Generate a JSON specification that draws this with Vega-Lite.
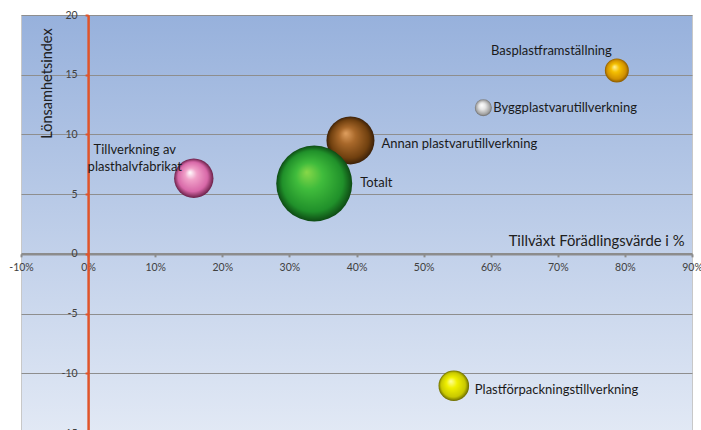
{
  "$schema": "https://vega.github.io/schema/vega-lite/v6.json",
  "width": 671,
  "height": 418,
  "autosize": {"type": "none"},
  "padding": {"left": 21, "top": 15, "right": 9, "bottom": -3},
  "background": "white",
  "view": {
    "fill": {"gradient": "linear", "x1": 0, "y1": 0, "x2": 0, "y2": 1,
      "stops": [{"offset": 0, "color": "#97b1dc"}, {"offset": 0.57, "color": "#c2d1ea"}, {"offset": 1, "color": "#e2e9f5"}]},
    "stroke": "#c8c8c8",
    "strokeWidth": 1
  },
  "config": {"font": "Lato"},
  "data": {
    "values": [
      {"namn": "Basplastframställning", "tillvaxt": 0.788, "lonsamhet": 15.36, "storlek": 144},
      {"namn": "Byggplastvarutillverkning", "tillvaxt": 0.589, "lonsamhet": 12.24, "storlek": 72},
      {"namn": "Annan plastvarutillverkning", "tillvaxt": 0.391, "lonsamhet": 9.5, "storlek": 576},
      {"namn": "Totalt", "tillvaxt": 0.337, "lonsamhet": 5.89, "storlek": 1444},
      {"namn": "Tillverkning av\nplasthalvfabrikat", "tillvaxt": 0.1575, "lonsamhet": 6.33, "storlek": 388},
      {"namn": "Plastförpackningstillverkning", "tillvaxt": 0.545, "lonsamhet": -11.04, "storlek": 234}
    ]
  },
  "encoding": {
    "x": {
      "field": "tillvaxt", "type": "quantitative",
      "scale": {"domain": [-0.1, 0.9], "nice": false, "zero": false},
      "axis": {
        "orient": "bottom", "offset": -179.14,
        "values": [-0.1, 0, 0.1, 0.2, 0.3, 0.4, 0.5, 0.6, 0.7, 0.8, 0.9],
        "labelExpr": "round(datum.value*100) + '%'",
        "grid": false,
        "domainColor": "#8c8c8c", "domainWidth": 2.5,
        "tickColor": "#8c8c8c", "tickSize": 3, "tickWidth": 2,
        "labelPadding": 6, "labelFontSize": 10.5, "labelColor": "#404040",
        "labelFlush": false, "labelOverlap": false, "labelBound": false,
        "title": "Tillväxt Förädlingsvärde i %",
        "titleX": 663, "titleY": -12, "titleAlign": "right", "titleBaseline": "middle", "titleAngle": 0,
        "titleFontSize": 14.8, "titleFontWeight": "normal", "titleColor": "#202020"
      }
    },
    "y": {
      "field": "lonsamhet", "type": "quantitative",
      "scale": {"domain": [-15, 20], "nice": false, "zero": false},
      "axis": {
        "orient": "left", "offset": -67.1,
        "values": [-15, -10, -5, 0, 5, 10, 15, 20],
        "labelExpr": "'' + datum.value",
        "grid": true, "gridColor": "#8e8e8e", "gridWidth": 1,
        "domainColor": "#e0542a", "domainWidth": 2.5,
        "tickColor": "#e0542a", "tickSize": 3, "tickWidth": 2,
        "labelPadding": 8, "labelFontSize": 10.5, "labelColor": "#404040",
        "labelFlush": false, "labelOverlap": false, "labelBound": false,
        "title": "Lönsamhetsindex",
        "titleX": -41, "titleY": 68, "titleAngle": -90, "titleAlign": "center", "titleBaseline": "middle",
        "titleFontSize": 14.5, "titleFontWeight": "normal", "titleColor": "#202020"
      }
    }
  },
  "layer": [
    {
      "transform": [{"filter": "datum.namn === 'Basplastframställning'"}],
      "mark": {"type": "point", "shape": "circle", "filled": true, "opacity": 1, "strokeWidth": 0,
        "fill": {"gradient": "radial", "x1": 0.4, "y1": 0.35, "r1": 0, "x2": 0.5, "y2": 0.5, "r2": 0.5,
          "stops": [{"offset": 0, "color": "#fff3a0"}, {"offset": 0.35, "color": "#f5c000"}, {"offset": 0.8, "color": "#d09000"}, {"offset": 1, "color": "#8a5a00"}]}},
      "encoding": {"size": {"field": "storlek", "type": "quantitative", "scale": {"domain": [0, 1444], "range": [0, 5776]}, "legend": null}}
    },
    {
      "transform": [{"filter": "datum.namn === 'Byggplastvarutillverkning'"}],
      "mark": {"type": "point", "shape": "circle", "filled": true, "opacity": 1, "strokeWidth": 0,
        "fill": {"gradient": "radial", "x1": 0.4, "y1": 0.35, "r1": 0, "x2": 0.5, "y2": 0.5, "r2": 0.5,
          "stops": [{"offset": 0, "color": "#ffffff"}, {"offset": 0.4, "color": "#e4e4e4"}, {"offset": 0.85, "color": "#a0a0a0"}, {"offset": 1, "color": "#6a6a6a"}]}},
      "encoding": {"size": {"field": "storlek", "type": "quantitative", "scale": {"domain": [0, 1444], "range": [0, 5776]}, "legend": null}}
    },
    {
      "transform": [{"filter": "datum.namn === 'Annan plastvarutillverkning'"}],
      "mark": {"type": "point", "shape": "circle", "filled": true, "opacity": 1, "strokeWidth": 0,
        "fill": {"gradient": "radial", "x1": 0.4, "y1": 0.35, "r1": 0, "x2": 0.5, "y2": 0.5, "r2": 0.5,
          "stops": [{"offset": 0, "color": "#e0a060"}, {"offset": 0.35, "color": "#a8682a"}, {"offset": 0.8, "color": "#70400f"}, {"offset": 1, "color": "#3a2008"}]}},
      "encoding": {"size": {"field": "storlek", "type": "quantitative", "scale": {"domain": [0, 1444], "range": [0, 5776]}, "legend": null}}
    },
    {
      "transform": [{"filter": "datum.namn === 'Totalt'"}],
      "mark": {"type": "point", "shape": "circle", "filled": true, "opacity": 1, "strokeWidth": 0,
        "fill": {"gradient": "radial", "x1": 0.4, "y1": 0.35, "r1": 0, "x2": 0.5, "y2": 0.5, "r2": 0.5,
          "stops": [{"offset": 0, "color": "#88d848"}, {"offset": 0.35, "color": "#40bc3c"}, {"offset": 0.8, "color": "#20902a"}, {"offset": 1, "color": "#0e4a14"}]}},
      "encoding": {"size": {"field": "storlek", "type": "quantitative", "scale": {"domain": [0, 1444], "range": [0, 5776]}, "legend": null}}
    },
    {
      "transform": [{"filter": "indexof(datum.namn, 'plasthalvfabrikat') >= 0"}],
      "mark": {"type": "point", "shape": "circle", "filled": true, "opacity": 1, "strokeWidth": 0,
        "fill": {"gradient": "radial", "x1": 0.4, "y1": 0.35, "r1": 0, "x2": 0.5, "y2": 0.5, "r2": 0.5,
          "stops": [{"offset": 0, "color": "#ffffff"}, {"offset": 0.3, "color": "#f0a0c8"}, {"offset": 0.75, "color": "#d868a8"}, {"offset": 1, "color": "#6a2048"}]}},
      "encoding": {"size": {"field": "storlek", "type": "quantitative", "scale": {"domain": [0, 1444], "range": [0, 5776]}, "legend": null}}
    },
    {
      "transform": [{"filter": "datum.namn === 'Plastförpackningstillverkning'"}],
      "mark": {"type": "point", "shape": "circle", "filled": true, "opacity": 1, "strokeWidth": 0,
        "fill": {"gradient": "radial", "x1": 0.4, "y1": 0.35, "r1": 0, "x2": 0.5, "y2": 0.5, "r2": 0.5,
          "stops": [{"offset": 0, "color": "#ffffa0"}, {"offset": 0.35, "color": "#f0f000"}, {"offset": 0.8, "color": "#c8c800"}, {"offset": 1, "color": "#6a6a00"}]}},
      "encoding": {"size": {"field": "storlek", "type": "quantitative", "scale": {"domain": [0, 1444], "range": [0, 5776]}, "legend": null}}
    },
    {
      "transform": [{"filter": "datum.namn === 'Basplastframställning'"}],
      "mark": {"type": "text", "align": "right", "baseline": "middle", "dx": -5, "dy": -19, "fontSize": 13, "color": "#1a1a1a"},
      "encoding": {"text": {"field": "namn"}}
    },
    {
      "transform": [{"filter": "datum.namn === 'Byggplastvarutillverkning'"}],
      "mark": {"type": "text", "align": "left", "baseline": "middle", "dx": 10, "dy": 0, "fontSize": 13, "color": "#1a1a1a"},
      "encoding": {"text": {"field": "namn"}}
    },
    {
      "transform": [{"filter": "datum.namn === 'Annan plastvarutillverkning'"}],
      "mark": {"type": "text", "align": "left", "baseline": "middle", "dx": 31, "dy": 4, "fontSize": 13, "color": "#1a1a1a"},
      "encoding": {"text": {"field": "namn"}}
    },
    {
      "transform": [{"filter": "datum.namn === 'Totalt'"}],
      "mark": {"type": "text", "align": "left", "baseline": "middle", "dx": 46, "dy": -1, "fontSize": 13, "color": "#1a1a1a"},
      "encoding": {"text": {"field": "namn"}}
    },
    {
      "transform": [{"filter": "indexof(datum.namn, 'plasthalvfabrikat') >= 0"}],
      "mark": {"type": "text", "align": "center", "baseline": "middle", "dx": -59, "dy": -28, "lineBreak": "\n", "lineHeight": 17, "fontSize": 13, "color": "#1a1a1a"},
      "encoding": {"text": {"field": "namn"}}
    },
    {
      "transform": [{"filter": "datum.namn === 'Plastförpackningstillverkning'"}],
      "mark": {"type": "text", "align": "left", "baseline": "middle", "dx": 21, "dy": 4, "fontSize": 13, "color": "#1a1a1a"},
      "encoding": {"text": {"field": "namn"}}
    }
  ]
}
